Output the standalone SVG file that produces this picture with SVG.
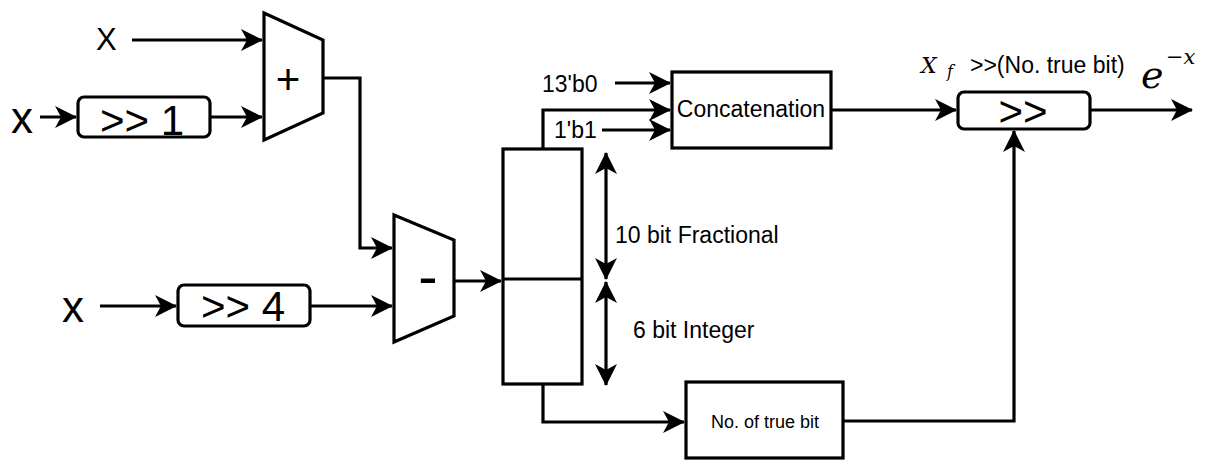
<svg xmlns="http://www.w3.org/2000/svg" width="1207" height="460" viewBox="0 0 1207 460">
<style>
.sh{fill:#fff;stroke:#000;stroke-width:3.2}
.ln{fill:none;stroke:#000;stroke-width:3.2}
.t{font-family:"Liberation Sans",Arial,sans-serif;fill:#000}
.m{font-family:"DejaVu Serif","Liberation Serif",serif;fill:#000}
</style>
<defs>
<marker id="a" markerUnits="userSpaceOnUse" markerWidth="22" markerHeight="22" refX="21" refY="11" orient="auto-start-reverse" viewBox="0 0 22 22">
<path d="M0,0 L22,11 L0,22 L6,11 Z" fill="#000"/>
</marker>
</defs>
<rect width="1207" height="460" fill="#fff"/>
<g id="connectors">
<path class="ln" d="M132,40 H262" marker-end="url(#a)"/>
<path class="ln" d="M40,117 H76" marker-end="url(#a)"/>
<path class="ln" d="M210,117 H262" marker-end="url(#a)"/>
<path class="ln" d="M323,78 H360 V248 H392" marker-end="url(#a)"/>
<path class="ln" d="M100,306 H176" marker-end="url(#a)"/>
<path class="ln" d="M310,306 H392" marker-end="url(#a)"/>
<path class="ln" d="M454,281 H501" marker-end="url(#a)"/>
<path class="ln" d="M543,149 V110 H670" marker-end="url(#a)"/>
<path class="ln" d="M615,83 H670" marker-end="url(#a)"/>
<path class="ln" d="M602,130 H670" marker-end="url(#a)"/>
<path class="ln" d="M831,110 H956" marker-end="url(#a)"/>
<path class="ln" d="M1090,110 H1192" marker-end="url(#a)"/>
<path class="ln" d="M543,384 V422 H684" marker-end="url(#a)"/>
<path class="ln" d="M843,421 H1014 V131" marker-end="url(#a)"/>
<path class="ln" d="M606,153 V279" marker-start="url(#a)" marker-end="url(#a)"/>
<path class="ln" d="M606,282 V385" marker-start="url(#a)" marker-end="url(#a)"/>
</g>
<g id="in1"><text class="t" x="96" y="50" font-size="31">X</text></g>
<g id="in2"><text class="t" x="11" y="133" font-size="44">x</text></g>
<g id="in3"><text class="t" x="62" y="322" font-size="44">x</text></g>
<g id="shr1">
<rect class="sh" x="78" y="97" width="132" height="40" rx="6"/>
<text class="t" x="142" y="135" font-size="42" text-anchor="middle">&gt;&gt; 1</text>
</g>
<g id="shr4">
<rect class="sh" x="178" y="285" width="132" height="41" rx="6"/>
<text class="t" x="243" y="321" font-size="42" text-anchor="middle">&gt;&gt; 4</text>
</g>
<g id="adder">
<polygon class="sh" points="264,13 323,40 323,113 264,140"/>
<text class="t" x="288" y="94" font-size="42" text-anchor="middle">+</text>
</g>
<g id="sub">
<polygon class="sh" points="394,215 454,240 454,316 394,342"/>
<text class="t" x="428" y="296" font-size="58" text-anchor="middle">-</text>
</g>
<g id="register">
<rect class="sh" x="503" y="149" width="79" height="235"/>
<line class="ln" x1="503" y1="279" x2="582" y2="279"/>
</g>
<g id="lbl-frac"><text class="t" x="615" y="243" font-size="23">10 bit Fractional</text></g>
<g id="lbl-int"><text class="t" x="633" y="338" font-size="23">6 bit Integer</text></g>
<g id="lbl-13b0"><text class="t" x="542" y="92" font-size="23">13'b0</text></g>
<g id="lbl-1b1"><text class="t" x="554" y="138" font-size="23">1'b1</text></g>
<g id="concat">
<rect class="sh" x="672" y="72" width="159" height="76"/>
<text class="t" x="751" y="117" font-size="23" text-anchor="middle">Concatenation</text>
</g>
<g id="notb">
<rect class="sh" x="686" y="382" width="157" height="76"/>
<text class="t" x="765" y="428" font-size="18" text-anchor="middle">No. of true bit</text>
</g>
<g id="shift">
<rect class="sh" x="958" y="92" width="132" height="37" rx="6"/>
<text class="t" x="1023" y="126" font-size="42" text-anchor="middle">&gt;&gt;</text>
</g>
<g id="lbl-xf">
<text class="m" x="921" y="73" font-size="22" font-style="italic">X</text>
<text class="m" x="947" y="77" font-size="16" font-style="italic">f</text>
<text class="t" x="970" y="73" font-size="23">&gt;&gt;(No. true bit)</text>
</g>
<g id="lbl-out">
<text class="m" x="1141" y="88" font-size="38" font-style="italic">e</text>
<text class="m" x="1166" y="64" font-size="21"><tspan>−</tspan><tspan font-style="italic">x</tspan></text>
</g>
</svg>
